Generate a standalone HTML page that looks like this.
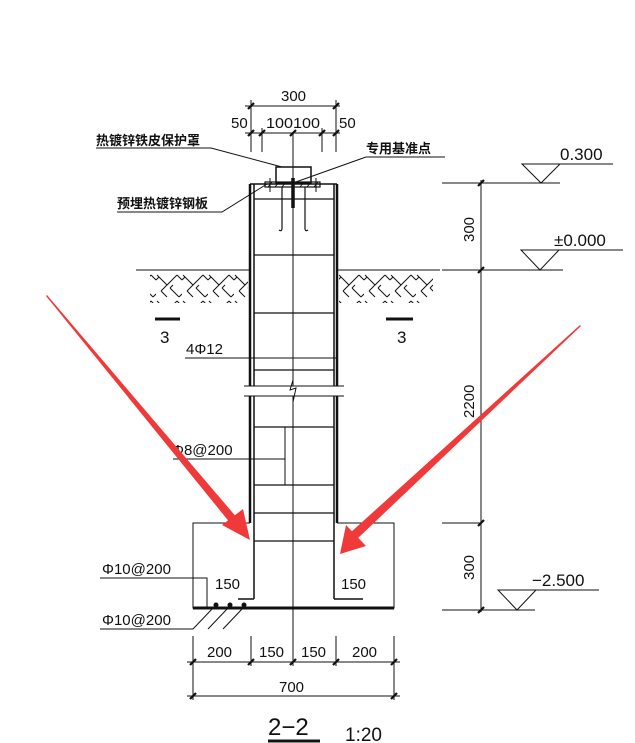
<!DOCTYPE html>
<html><head><meta charset="utf-8"><style>
html,body{margin:0;padding:0;background:#fff;width:635px;height:743px;overflow:hidden}
text{font-family:"Liberation Sans","Noto Sans CJK SC",sans-serif;fill:#111}
</style></head><body>
<svg width="635" height="743" viewBox="0 0 635 743" xmlns="http://www.w3.org/2000/svg">
<defs>
<pattern id="soil" x="0" y="272" width="26" height="26" patternUnits="userSpaceOnUse">
<path d="M1 3 L11 13 L21 3 M11 13 L5 19 M21 3 L26 8 M0 8 L3 5 M14 16 L23 25 M14 16 L17 13 M23 25 L26 22 M5 19 L11 25" stroke="#111" stroke-width="1" fill="none"/>
</pattern>
</defs>
<g stroke="#111" fill="none" stroke-width="1">
<line x1="136" y1="270" x2="250" y2="270"/>
<line x1="337" y1="270" x2="440" y2="270"/>
<rect x="150" y="273" width="98" height="30" fill="url(#soil)" stroke="none"/>
<rect x="339" y="273" width="94" height="30" fill="url(#soil)" stroke="none"/>
<line x1="250" y1="184" x2="250" y2="523" stroke-width="2.5"/>
<line x1="337" y1="184" x2="337" y2="523" stroke-width="2.5"/>
<line x1="254" y1="184" x2="254" y2="599" stroke-width="1.5"/>
<line x1="334" y1="184" x2="334" y2="599" stroke-width="1.5"/>
<line x1="250" y1="184" x2="337" y2="184" stroke-width="1.5"/>
<line x1="254" y1="599" x2="238" y2="599" stroke-width="1.5"/>
<line x1="334" y1="599" x2="363" y2="599" stroke-width="1.5"/>
<line x1="293" y1="133" x2="293" y2="660"/>
<g stroke-width="1.3">
<line x1="254" y1="199" x2="334" y2="199"/>
<line x1="254" y1="255" x2="334" y2="255"/>
<line x1="254" y1="313" x2="334" y2="313"/>
<line x1="254" y1="370" x2="334" y2="370"/>
<line x1="254" y1="427" x2="334" y2="427"/>
<line x1="254" y1="485" x2="334" y2="485"/>
<line x1="254" y1="513" x2="334" y2="513"/>
<line x1="254" y1="541" x2="334" y2="541"/>
</g>
<rect x="244" y="386" width="100" height="10" fill="#fff" stroke="none"/>
<line x1="244" y1="386" x2="344" y2="386"/>
<line x1="244" y1="396" x2="344" y2="396"/>
<path d="M293 380 L290 390 L296 388 L293 402" />
<path d="M250 523 L193 523 L193 608 L394 608 L394 523 L337 523"/>
<line x1="193" y1="608" x2="394" y2="608" stroke-width="3"/>
<rect x="276" y="167" width="35" height="16" stroke-width="1.5"/>
<rect x="265" y="182" width="55" height="5" stroke-width="1.2"/>
<path d="M268 187 L272 182 M275 187 L279 182 M282 187 L286 182 M300 187 L304 182 M307 187 L311 182 M314 187 L318 182"/>
<line x1="293" y1="178" x2="293" y2="208" stroke-width="3.5"/>
<path d="M282 187 L282 228 Q282 232 279 230 M305 187 L305 228 Q305 232 308 230" stroke-width="1.2"/>
<line x1="270" y1="178" x2="270" y2="192"/><line x1="316" y1="178" x2="316" y2="192"/>
<path d="M96 148 L211 148 L282 167"/>
<path d="M366 157 L445 157 M366 157 L293 183"/>
<path d="M117 212 L222 212 L267 184"/>
<line x1="245" y1="106" x2="340" y2="106"/>
<line x1="245" y1="133" x2="340" y2="133"/>
<path d="M251 100 L251 152 M262 128 L262 152 M322 128 L322 152 M336 100 L336 152"/>
<g stroke-width="2.2">
<path d="M248 109 L254 103 M333 109 L339 103 M248 136 L254 130 M259 136 L265 130 M290 136 L296 130 M319 136 L325 130 M333 136 L339 130"/>
</g>
<line x1="155" y1="319" x2="180" y2="319" stroke-width="3"/>
<line x1="386" y1="319" x2="413" y2="319" stroke-width="3"/>
<line x1="185" y1="358" x2="338" y2="358"/>
<line x1="173" y1="459" x2="285" y2="459"/>
<line x1="285" y1="427" x2="285" y2="485"/>
<path d="M100 578 L207 578 L207 608"/>
<path d="M100 629 L193 629 L213 608 M208 629 L228 608 M223 629 L243 608"/>
<circle cx="216" cy="605" r="2" fill="#111"/><circle cx="230" cy="605" r="2" fill="#111"/><circle cx="244" cy="605" r="2" fill="#111"/>
<line x1="187" y1="662" x2="400" y2="662"/>
<line x1="187" y1="696" x2="400" y2="696"/>
<path d="M193 636 L193 700 M251 636 L251 666 M293 636 L293 666 M336 636 L336 666 M394 636 L394 700"/>
<g stroke-width="2.2"><path d="M190 665 L196 659 M248 665 L254 659 M290 665 L296 659 M333 665 L339 659 M391 665 L397 659 M190 699 L196 693 M391 699 L397 693"/></g>
<line x1="481" y1="180" x2="481" y2="612"/>
<line x1="442" y1="183" x2="560" y2="183"/>
<line x1="442" y1="270" x2="563" y2="270"/>
<line x1="442" y1="523" x2="481" y2="523"/>
<line x1="442" y1="610" x2="535" y2="610"/>
<g stroke-width="2.2"><path d="M478 186 L484 180 M478 273 L484 267 M478 526 L484 520 M478 613 L484 607"/></g>
<path d="M522 164 L560 164 L541 183 Z M560 164 L613 164"/>
<path d="M521 250 L559 250 L540 270 Z M559 250 L623 250"/>
<path d="M498 590 L536 590 L517 610 Z M536 590 L599 590"/>
</g>
<g font-size="15">
<text x="281" y="101">300</text>
<text x="231" y="128">50</text>
<text x="266" y="128" textLength="54" lengthAdjust="spacingAndGlyphs">100100</text>
<text x="339" y="128">50</text>
<text x="96" y="145" font-size="13" font-weight="bold">热镀锌铁皮保护罩</text>
<text x="366" y="153" font-size="13" font-weight="bold">专用基准点</text>
<text x="117" y="208" font-size="13" font-weight="bold">预埋热镀锌钢板</text>
<text x="160" y="343" font-size="17">3</text>
<text x="397" y="343" font-size="17">3</text>
<text x="186" y="354">4Φ12</text>
<text x="172" y="455">Φ8@200</text>
<text x="102" y="574">Φ10@200</text>
<text x="102" y="625">Φ10@200</text>
<text x="215" y="589">150</text>
<text x="341" y="589">150</text>
<text x="207" y="657">200</text>
<text x="259" y="657">150</text>
<text x="301" y="657">150</text>
<text x="352" y="657">200</text>
<text x="279" y="692">700</text>
<text x="560" y="160" font-size="17">0.300</text>
<text x="554" y="246" font-size="17">±0.000</text>
<text x="532" y="586" font-size="17">−2.500</text>
<text x="474" y="242" transform="rotate(-90 474 242)">300</text>
<text x="474" y="418" transform="rotate(-90 474 418)">2200</text>
<text x="474" y="580" transform="rotate(-90 474 580)">300</text>
<text x="268" y="735" font-size="24">2−2</text>
<text x="345" y="741" font-size="19">1:20</text>
</g>
<line x1="268" y1="741" x2="320" y2="741" stroke="#111" stroke-width="3"/>
<g fill="#f03a3a">
<polygon points="46,296 47,295 238,519 231,524"/>
<polygon points="250,540 222,525 243,509"/>
<polygon points="580,325 581,326 357,539 350,533"/>
<polygon points="340,554 346,525 366,546"/>
</g>
</svg>
</body></html>
